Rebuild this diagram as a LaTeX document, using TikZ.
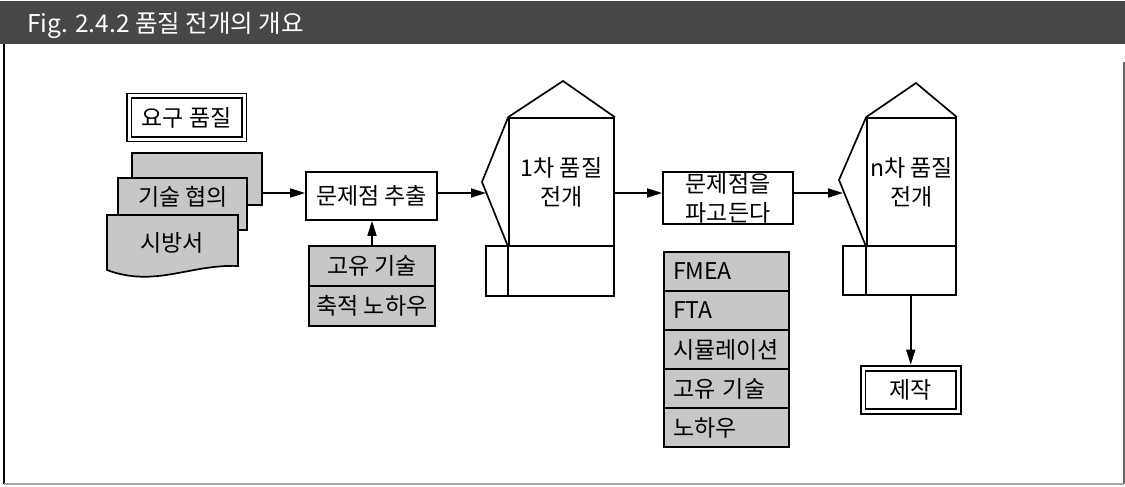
\documentclass[tikz,border=0pt]{standalone}
\usepackage{fontspec}
\setmainfont{Noto Sans CJK KR}
\usetikzlibrary{arrows.meta}
\begin{document}
\begin{tikzpicture}[x=1pt,y=-1pt,
  lbl/.style={font=\fontsize{23}{29}\selectfont},
  box/.style={draw, line width=1.7pt, inner sep=0pt, lbl, align=center},
  shadebox/.style={box, fill=black!22},
  arr/.style={line width=1.7pt, -{Triangle[length=15pt,width=9pt]}},
  ln/.style={line width=1.7pt, line join=miter},
  dbl/.style={box, double, double distance=3pt}
]
\useasboundingbox (0,0) rectangle (1125,487);
% title bar and frame
\fill[black!72] (0,1) rectangle (1125,44);
\node[anchor=west, text=white, inner sep=0pt, font=\fontsize{24.5}{27}\selectfont] (title) at (27,25) {Fig. 2.4.2 품질 전개의 개요};
\draw[line width=1.2pt] (4,44) -- (4,484);
\draw[line width=1.2pt, black!60] (1124,62) -- (1124,484);
\draw[line width=2pt, black!35] (4,484) -- (1124,484);

\coordinate (mid) at (0,193);

% required quality
\node[dbl, minimum width=115pt, minimum height=43pt] (req) at (186.5,117.5) {요구 품질};

% stacked documents
\node[shadebox, minimum width=130pt, minimum height=52pt] (back) at (197,179) {};
\node[shadebox, minimum width=129pt, minimum height=52pt] (tech) at (182.5,204) {};
\node[lbl, inner sep=0pt] (techlbl) at (183,197) {기술 협의};
\draw[ln, fill=black!22] (107,215) -- (238,215) -- (238,266)
  .. controls (190,264) and (155,288) .. (107,270) -- cycle;
\node[lbl, inner sep=0pt] (spec) at (172,243) {시방서};

% problem extraction
\node[box, minimum width=131pt, minimum height=48pt] (p1) at (371.5,196) {문제점 추출};
\draw[arr] (back.east |- mid) -- (p1.west |- mid);
\node[shadebox, minimum width=126pt, minimum height=40pt] (g1) at (372,266) {고유 기술};
\node[shadebox, minimum width=126pt, minimum height=40pt] (g2) at (372,306) {축적 노하우};
\draw[arr] (g1.north) -- (g1.north |- p1.south);

% first quality deployment
\node[box, minimum width=128pt, minimum height=50pt] (q1low) at (550,271) {};
\node[box, minimum width=105pt, minimum height=128pt] (q1) at (561.5,182) {1차 품질\\전개};
\coordinate (q1apex) at (563,81);
\coordinate (q1tip) at (482,182);
\coordinate (w1) at (486,193);
\draw[ln] (q1.north west) -- (q1apex) -- (q1.north east);
\draw[ln] (q1.north west) -- (q1tip) -- (q1.south west);
\draw[ln] (q1.south west) -- (q1.south west |- q1low.south);
\draw[arr] (p1.east |- w1) -- (w1);

% dig into problems
\node[box, minimum width=130pt, minimum height=52pt] (p2) at (728,198) {문제점을\\파고든다};
\draw[arr] (q1.east |- mid) -- (p2.west |- mid);

\node[shadebox, text width=107pt, inner xsep=9pt, minimum height=39pt, align=left] (f1) at (726.5,271.5) {FMEA};
\node[shadebox, text width=107pt, inner xsep=9pt, minimum height=39pt, align=left] (f2) at (726.5,310.5) {FTA};
\node[shadebox, text width=107pt, inner xsep=9pt, minimum height=39pt, align=left] (f3) at (726.5,349.5) {시뮬레이션};
\node[shadebox, text width=107pt, inner xsep=9pt, minimum height=39pt, align=left] (f4) at (726.5,388.5) {고유 기술};
\node[shadebox, text width=107pt, inner xsep=9pt, minimum height=39pt, align=left] (f5) at (726.5,427.5) {노하우};

% n-th quality deployment
\node[box, minimum width=113pt, minimum height=49pt] (qnlow) at (899.5,270.5) {};
\node[box, minimum width=89pt, minimum height=128pt] (qn) at (911.5,182) {n차 품질\\전개};
\coordinate (qnapex) at (916,83);
\coordinate (qntip) at (839,180);
\coordinate (w2) at (843,193);
\draw[ln] (qn.north west) -- (qnapex) -- (qn.north east);
\draw[ln] (qn.north west) -- (qntip) -- (qn.south west);
\draw[ln] (qn.south west) -- (qn.south west |- qnlow.south);
\draw[arr] (p2.east |- w2) -- (w2);

% production
\node[dbl, minimum width=95.5pt, minimum height=43pt] (zak) at (910.75,390) {제작};
\draw[arr, shorten >=3pt] (zak.north |- qnlow.south) -- (zak.north);
\end{tikzpicture}
\end{document}
